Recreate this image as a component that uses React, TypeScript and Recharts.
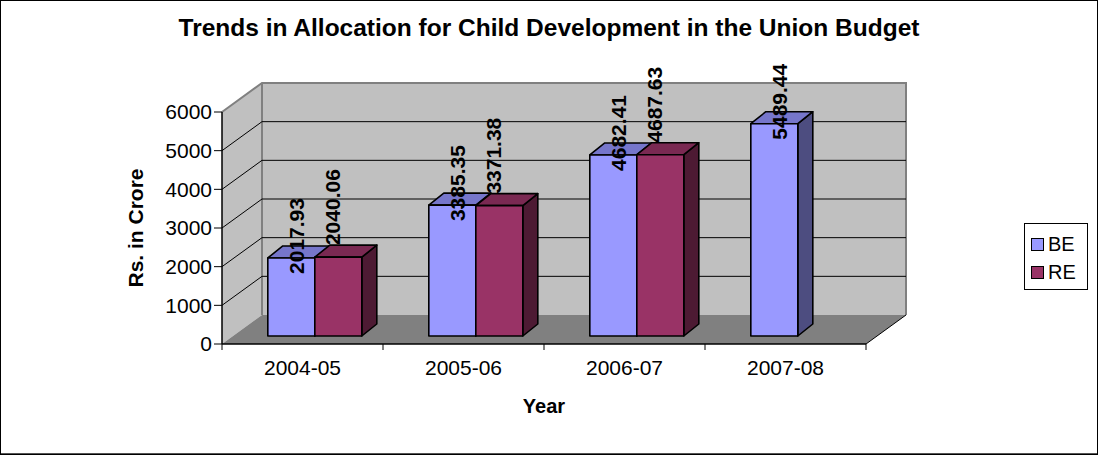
import { BarChart, Bar, XAxis, YAxis, CartesianGrid, Legend, LabelList, Label } from "recharts";

const categories = ["2004-05", "2005-06", "2006-07", "2007-08"];
const beValues = [2017.93, 3385.35, 4682.41, 5489.44];
const reValues: (number | null)[] = [2040.06, 3371.38, 4687.63, null];
const yTicks = [0, 1000, 2000, 3000, 4000, 5000, 6000];

const data = categories.map((year, i) => ({ year, BE: beValues[i], RE: reValues[i] }));

const FONT = "'Liberation Sans', Arial, sans-serif";
const W = 1098;
const H = 455;
const PLOT_LEFT = 222;
const PLOT_RIGHT = 866;
const PLOT_TOP = 112;
const PLOT_BOTTOM = 344;
const BAND = (PLOT_RIGHT - PLOT_LEFT) / categories.length;

// perspective offsets
const WALL_DX = 40;
const WALL_DY = -29;
const BAR_DX = 12;
const BAR_DY = -8;
const DEPTH_DX = 15;
const DEPTH_DY = -12;

const colors = {
  BE: { front: "#9999FF", top: "#7676CB", side: "#4D4D80" },
  RE: { front: "#993366", top: "#7A2952", side: "#4D1A33" }
};

function GridLine(props: any) {
  const { x1, y1, x2, index } = props;
  const x = typeof props.x === "number" ? props.x : PLOT_LEFT;
  const y = typeof props.y === "number" ? props.y : PLOT_TOP;
  const w = typeof props.width === "number" ? props.width : PLOT_RIGHT - PLOT_LEFT;
  const h = typeof props.height === "number" ? props.height : PLOT_BOTTOM - PLOT_TOP;
  const isTop = Math.abs(y1 - y) < 0.5;
  const isBottom = Math.abs(y1 - (y + h)) < 0.5;
  return (
    <g>
      {index === 0 && (
        <g>
          <polygon
            points={`${x},${y} ${x + WALL_DX},${y + WALL_DY} ${x + WALL_DX},${y + h + WALL_DY} ${x},${y + h}`}
            fill="#C0C0C0"
          />
          <rect x={x + WALL_DX} y={y + WALL_DY} width={w} height={h} fill="#C0C0C0" />
          <polygon
            points={`${x},${y + h} ${x + w},${y + h} ${x + w + WALL_DX},${y + h + WALL_DY} ${x + WALL_DX},${y + h + WALL_DY}`}
            fill="#808080"
          />
          <polyline
            points={`${x},${y} ${x + WALL_DX},${y + WALL_DY} ${x + w + WALL_DX},${y + WALL_DY} ${x + w + WALL_DX},${y + h + WALL_DY}`}
            fill="none"
            stroke="#808080"
            strokeWidth={2}
          />
          <line x1={x + WALL_DX} y1={y + WALL_DY} x2={x + WALL_DX} y2={y + h + WALL_DY} stroke="#808080" strokeWidth={2} />
          <line x1={x + w} y1={y + h} x2={x + w + WALL_DX} y2={y + h + WALL_DY} stroke="#000" strokeWidth={1} />
        </g>
      )}
      {!isTop && !isBottom && (
        <g>
          <line x1={x1} y1={y1} x2={x1 + WALL_DX} y2={y1 + WALL_DY} stroke="#000" strokeWidth={1} />
          <line x1={x1 + WALL_DX} y1={y1 + WALL_DY} x2={x2 + WALL_DX} y2={y1 + WALL_DY} stroke="#000" strokeWidth={1} />
        </g>
      )}
    </g>
  );
}

function makeBox(series: "BE" | "RE") {
  return (props: any) => {
    const { x, y, width, height } = props;
    if (x == null || y == null || !height || height <= 0) return <g />;
    const fx = x + BAR_DX;
    const fy = y + BAR_DY;
    const c = colors[series];
    return (
      <g stroke="#000" strokeWidth={1.6} strokeLinejoin="round">
        <polygon
          points={`${fx + width},${fy} ${fx + width + DEPTH_DX},${fy + DEPTH_DY} ${fx + width + DEPTH_DX},${fy + height + DEPTH_DY} ${fx + width},${fy + height}`}
          fill={c.side}
        />
        <polygon
          points={`${fx},${fy} ${fx + width},${fy} ${fx + width + DEPTH_DX},${fy + DEPTH_DY} ${fx + DEPTH_DX},${fy + DEPTH_DY}`}
          fill={c.top}
        />
        <rect x={fx} y={fy} width={width} height={height} fill={c.front} />
      </g>
    );
  };
}

function makeLabel(shiftX: number, lift: number) {
  return (props: any) => {
    const { x, y, width, value } = props;
    if (value == null || x == null) return null;
    const cx = x + BAR_DX + width / 2 + shiftX;
    const cy = y + BAR_DY - lift;
    return (
      <text
        x={cx}
        y={cy}
        transform={`rotate(-90, ${cx}, ${cy})`}
        textAnchor="middle"
        dominantBaseline="central"
        fontFamily={FONT}
        fontSize={21}
        fontWeight="bold"
        fill="#000"
      >
        {Number(value).toFixed(2)}
      </text>
    );
  };
}

function XTick(props: any) {
  const { x, y, payload, index } = props;
  const axisY = y - 8;
  return (
    <g>
      <line x1={x - BAND / 2} y1={axisY} x2={x - BAND / 2} y2={axisY + 6} stroke="#000" />
      {index === categories.length - 1 && (
        <line x1={x + BAND / 2} y1={axisY} x2={x + BAND / 2} y2={axisY + 6} stroke="#000" />
      )}
      <text x={x} y={y + 23} textAnchor="middle" fontFamily={FONT} fontSize={21} fill="#000">
        {payload.value}
      </text>
    </g>
  );
}

function LegendBox() {
  const items: ["BE" | "RE", string][] = [
    ["BE", colors.BE.front],
    ["RE", colors.RE.front]
  ];
  return (
    <div
      style={{
        width: 64,
        height: 67,
        border: "1px solid #000",
        background: "#fff",
        boxSizing: "border-box",
        fontFamily: FONT,
        fontSize: 20,
        color: "#000",
        paddingTop: 6
      }}
    >
      {items.map(([name, fill]) => (
        <div key={name} style={{ display: "flex", alignItems: "center", height: 28, paddingLeft: 6 }}>
          <span
            style={{
              display: "inline-block",
              width: 11,
              height: 11,
              background: fill,
              border: "1.5px solid #000",
              marginRight: 4
            }}
          />
          <span>{name}</span>
        </div>
      ))}
    </div>
  );
}

export default function App() {
  return (
    <div
      style={{
        position: "absolute",
        left: 0,
        top: 0,
        width: W,
        height: H,
        background: "#fff",
        boxShadow: "inset 0 0 0 1px #000, inset -1px -2px 0 0 #555",
        fontFamily: FONT
      }}
    >
      <div
        style={{
          position: "absolute",
          left: 0,
          top: 14,
          width: W,
          textAlign: "center",
          fontSize: 24.5,
          fontWeight: "bold",
          lineHeight: "28px"
        }}
      >
        Trends in Allocation for Child Development in the Union Budget
      </div>
      <BarChart
        width={W}
        height={H}
        data={data}
        margin={{ top: PLOT_TOP, right: W - PLOT_RIGHT, bottom: H - PLOT_BOTTOM - 80, left: 127 }}
        barCategoryGap="21%"
        barGap={0}
      >
        <CartesianGrid horizontal={(p: any) => <GridLine {...p} />} vertical={false} />
        <XAxis
          dataKey="year"
          height={80}
          tickLine={false}
          tickSize={6}
          tickMargin={2}
          axisLine={{ stroke: "#000", strokeWidth: 1.5 }}
          tick={(p: any) => <XTick {...p} />}
          interval={0}
        >
          <Label
            value="Year"
            position="insideBottom"
            offset={11}
            style={{ fontFamily: FONT, fontSize: 20, fontWeight: "bold", fill: "#000" }}
          />
        </XAxis>
        <YAxis
          width={95}
          domain={[0, 6000]}
          ticks={yTicks}
          interval={0}
          tickSize={8}
          tickMargin={2}
          axisLine={{ stroke: "#000", strokeWidth: 1.5 }}
          tickLine={{ stroke: "#000" }}
          tick={{ fontFamily: FONT, fontSize: 21, fill: "#000" }}
        >
          <Label
            value="Rs. in Crore"
            angle={-90}
            position="insideLeft"
            offset={9}
            style={{ fontFamily: FONT, fontSize: 21, fontWeight: "bold", fill: "#000", textAnchor: "middle" }}
          />
        </YAxis>
        <Legend
          layout="vertical"
          align="center"
          verticalAlign="middle"
          width={64}
          wrapperStyle={{ left: 1024, top: 223, width: 64 }}
          content={() => <LegendBox />}
        />
        <Bar dataKey="BE" fill={colors.BE.front} shape={makeBox("BE")} isAnimationActive={false}>
          <LabelList dataKey="BE" content={makeLabel(5, 22)} />
        </Bar>
        <Bar dataKey="RE" fill={colors.RE.front} shape={makeBox("RE")} isAnimationActive={false}>
          <LabelList dataKey="RE" content={makeLabel(-6, 50)} />
        </Bar>
      </BarChart>
    </div>
  );
}
